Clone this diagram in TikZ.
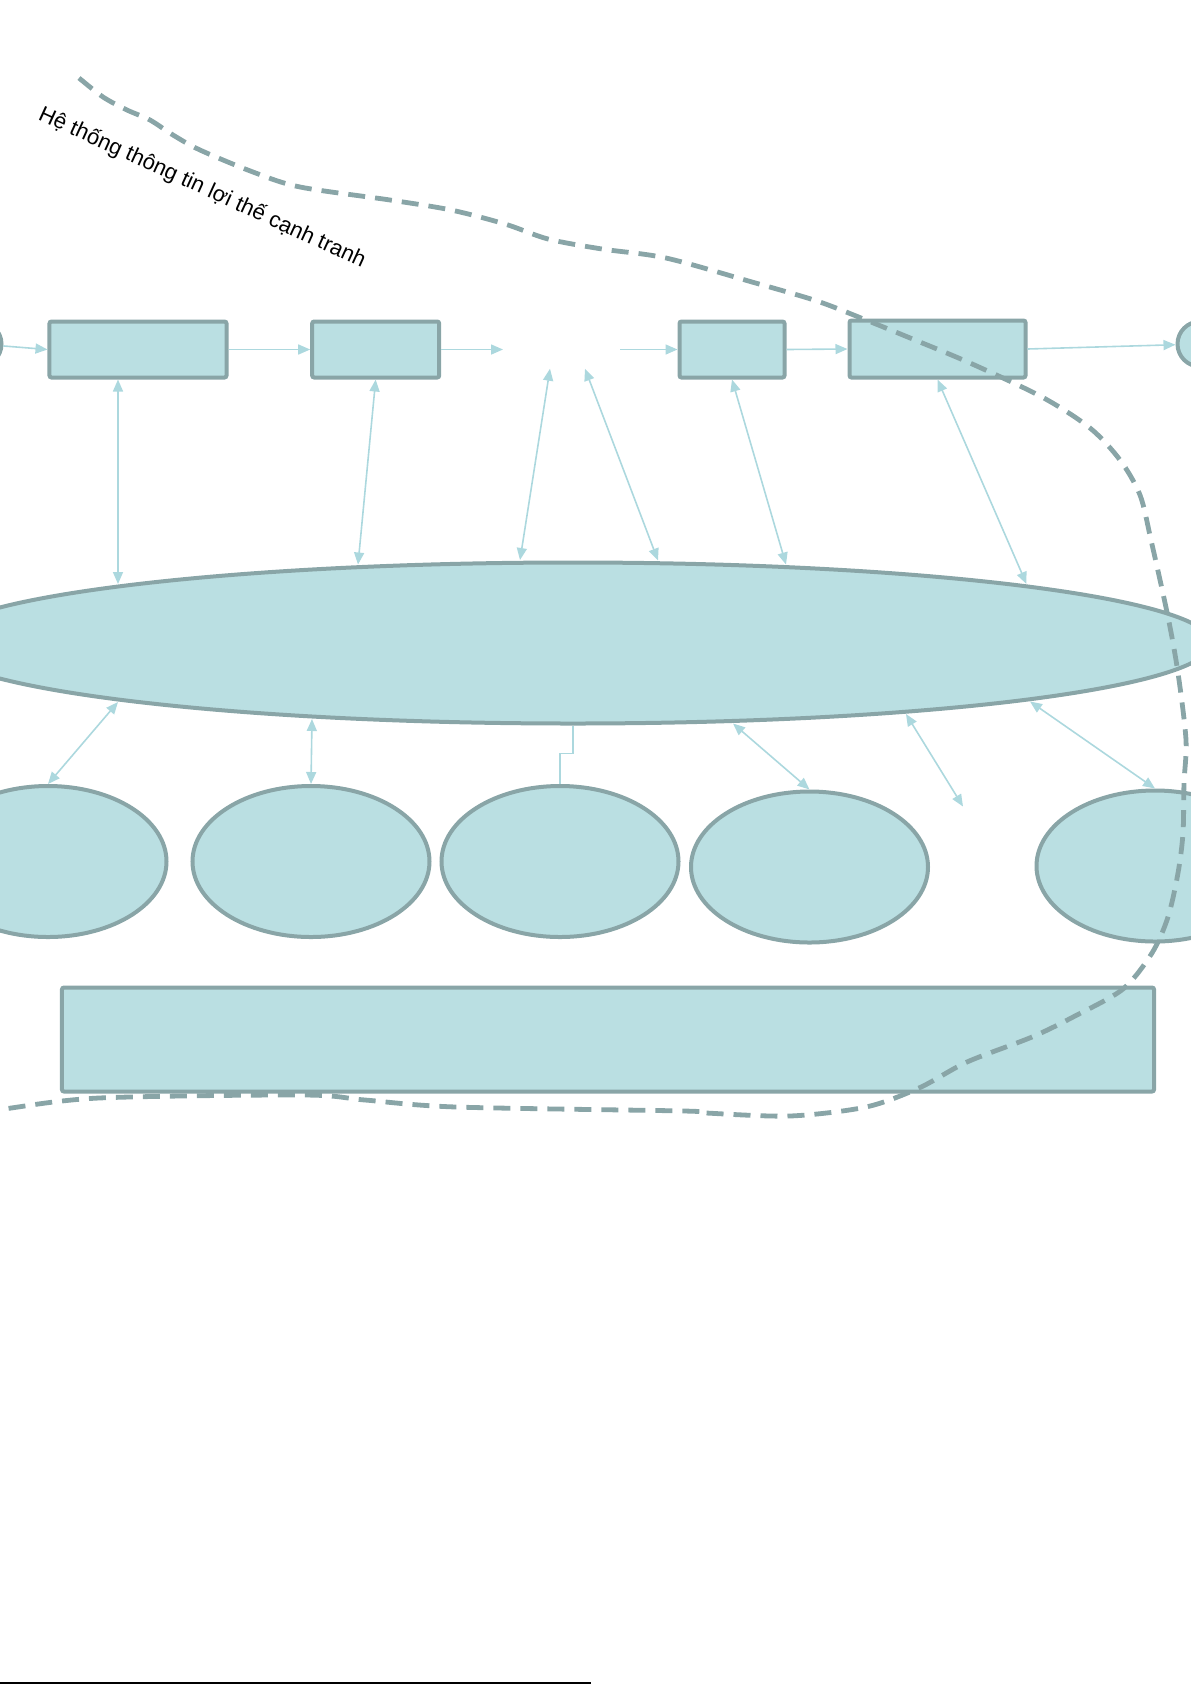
\documentclass[tikz,border=0pt]{standalone}
\usepackage{fontspec}
\setmainfont{Liberation Sans}
\usetikzlibrary{positioning}
\usetikzlibrary{shapes.geometric}
\usetikzlibrary{arrows.meta}
\definecolor{boxfill}{RGB}{186,223,226}
\definecolor{boxline}{RGB}{137,165,167}
\definecolor{linkc}{RGB}{172,216,222}
\tikzset{
  blk/.style={draw=boxline, fill=boxfill, line width=2bp, rounded corners=1bp, inner sep=0pt},
  oval/.style={draw=boxline, fill=boxfill, line width=2bp, ellipse, inner sep=0pt,
    minimum width=118.5bp, minimum height=75.5bp},
  circ/.style={draw=boxline, fill=boxfill, line width=2bp, circle, inner sep=0pt, minimum size=22.5bp},
  link/.style={draw=linkc, line width=0.8bp, -{Triangle[length=6bp,width=5bp]}},
  dlink/.style={link, {Triangle[length=6bp,width=5bp]}-{Triangle[length=6bp,width=5bp]}},
  bound/.style={draw=boxline, line width=2.4bp, dash pattern=on 8.5bp off 5bp},
}

\begin{document}
\begin{tikzpicture}[x=0.5bp,y=-0.5bp]
\useasboundingbox (0,0) rectangle (1191,1685);
\clip (0,0) rectangle (1191,1685);

\node[rotate=-24.6, anchor=base west, inner sep=0pt, font=\fontsize{11bp}{13bp}\selectfont] (title) at (37,119) {Hệ thống thông tin lợi thế cạnh tranh};

% top row
\node[circ] (lcirc) at (-21,344) {};
\node[blk, minimum width=88.5bp, minimum height=28bp] (b1) at (138,349.5) {};
\node[blk, minimum width=63.5bp, minimum height=28bp] (b2) at (375.7,349.5) {};
\node[blk, minimum width=52.5bp, minimum height=28bp] (b3) at (732,349.5) {};
\node[blk, minimum width=88bp, minimum height=28.5bp] (b4) at (937.5,349) {};
\node[circ] (rcirc) at (1200,344) {};
\coordinate (gapin) at (503,349.5);
\coordinate (gapout) at (620,349.5);
\coordinate (gapl) at (550,368.7);
\coordinate (gapr) at (585,368.7);

% middle
\node[draw=boxline, fill=boxfill, line width=2bp, ellipse, inner sep=0pt,
  minimum width=638.5bp, minimum height=80.5bp] (big) at (573,643) {};

% bottom row
\node[oval] (e1) at (48,861.5) {};
\node[oval] (e2) at (311,861.5) {};
\node[oval] (e3) at (560,861.5) {};
\node[oval] (e4) at (809.5,867) {};
\node[oval] (e5) at (1155,866) {};
\coordinate (loose) at (963,806.5);
\node[blk, minimum width=546bp, minimum height=52bp] (base) at (608,1039.5) {};

\draw[link] (lcirc) -- (b1.west);
\draw[link] (b1.east) -- (b2.west);
\draw[link] (b2.east) -- (gapin);
\draw[link] (gapout) -- (b3.west);
\draw[link] (b3.east) -- (b4.west);
\draw[link] (b4.east) -- (rcirc);

\draw[dlink] ([xshift=-10bp]b1.south) -- ([shift={(-455,-59)}]big.center);
\draw[dlink] (b2.south) -- ([shift={(-215,-78.5)}]big.center);
\draw[dlink] (gapl) -- ([shift={(-53,-83)}]big.center);
\draw[dlink] (gapr) -- ([shift={(85,-82.5)}]big.center);
\draw[dlink] (b3.south) -- ([shift={(213,-78.5)}]big.center);
\draw[dlink] (b4.south) -- ([shift={(453.5,-59)}]big.center);

\draw[dlink] ([shift={(-455,59)}]big.center) -- (e1.north);
\draw[dlink] ([shift={(-261,76)}]big.center) -- (e2.north);
\draw[draw=linkc, line width=0.8bp] (big.south) -- ++(0,28) -| (e3.north);
\draw[dlink] ([shift={(160,80.5)}]big.center) -- (e4.north);
\draw[dlink] ([shift={(333,71)}]big.center) -- (loose);
\draw[dlink] ([shift={(457,58.5)}]big.center) -- (e5.north);

% boundary
\draw[bound] plot[smooth, tension=0.5] coordinates {
  (79,78) (103,97) (127,110) (150,120) (173,135) (200,150) (253,172) (300,187)
  (390,200) (451,210) (505,224) (548,239) (602,249) (666,258) (752,282) (817,301)
  (866,320) (915,340) (970,363) (1042,397) (1090,428) (1120,460) (1140,495)
  (1151,540) (1168,617) (1178,673) (1186,740) (1184,783) (1183,833) (1178,873)
  (1168,917) (1152,953) (1123,989) (1075,1016) (1032,1037) (967,1062) (919,1088)
  (866,1107) (790,1116) (706,1113) (684,1111) (456,1107) (365,1100) (304,1095)
  (99,1098) (4,1109) (-10,1111)};

\draw[line width=0.8bp] (0,1683) -- (591,1683);
\end{tikzpicture}
\end{document}
